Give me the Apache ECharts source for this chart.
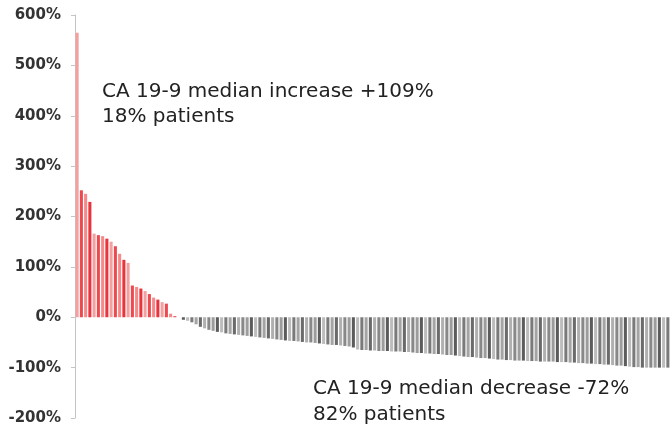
<!DOCTYPE html>
<html>
<head>
<meta charset="utf-8">
<script src="https://cdn.jsdelivr.net/npm/echarts@6/dist/echarts.min.js"></script>
<style>
html,body{margin:0;padding:0;background:#fff;}
#chart{width:670px;height:434px;}
</style>
</head>
<body>
<div id="chart"></div>
<script>
// Percent change in CA 19-9 per patient (waterfall, sorted)
const increaseValues = [565, 252, 245, 229, 166, 163, 161, 156, 150, 141, 126, 114, 108,
  63, 60, 57, 52, 46, 39, 35, 30, 27, 7, 2];
const decreaseValues = [0,
  -5, -7, -10, -14, -19, -22, -25, -27, -29, -30, -32, -33, -34, -35, -36, -37, -38, -39, -40, -41,
  -42, -43, -44, -45, -46, -47, -47, -48, -49, -50, -50, -51, -52, -53, -54, -55, -55, -56, -57, -58,
  -60, -64, -65, -65, -66, -66, -67, -67, -67, -68, -68, -68, -69, -69, -70, -71, -71, -72, -72, -73,
  -73, -74, -75, -75, -76, -77, -78, -79, -79, -80, -81, -81, -82, -83, -84, -84, -85, -85, -86, -86,
  -86, -87, -87, -87, -88, -88, -88, -88, -89, -89, -89, -90, -90, -91, -91, -92, -92, -93, -93, -94,
  -94, -95, -96, -96, -97, -98, -99, -99, -100, -100, -100, -100, -100, -100, -100];
const yMin = -200, yMax = 600, yStep = 100;
const annotationIncrease = ['CA 19-9 median increase +109%', '18% patients'];
const annotationDecrease = ['CA 19-9 median decrease -72%', '82% patients'];

const values = increaseValues.concat(decreaseValues);
const categories = values.map((v, i) => 'P' + (i + 1));

const redShades = ['#f3a0a0', '#ec4a4f', '#f58a8a', '#e8343c'];
const grayShades = ['#9c9c9c', '#7a7a7a', '#b0b0b0', '#5c5c5c', '#a4a4a4', '#888888', '#bcbcbc', '#6a6a6a'];

const chart = echarts.init(document.getElementById('chart'), null, {renderer: 'canvas'});
const textStyleBig = {fontFamily: 'DejaVu Sans', fontSize: 20, fill: '#222'};
chart.setOption({
  animation: false,
  grid: {left: 75, right: 0, top: 15, bottom: 16, containLabel: false},
  xAxis: {
    type: 'category',
    data: categories,
    show: false,
    boundaryGap: true
  },
  yAxis: {
    type: 'value',
    min: yMin, max: yMax, interval: yStep,
    axisLine: {show: true, lineStyle: {color: '#c4c4c4', width: 1}},
    axisTick: {show: true, length: 4, lineStyle: {color: '#c4c4c4'}},
    splitLine: {show: false},
    axisLabel: {
      formatter: '{value}%',
      margin: 14,
      fontFamily: 'DejaVu Sans',
      fontWeight: 'bold',
      fontSize: 15,
      color: '#333'
    }
  },
  series: [{
    type: 'bar',
    data: values,
    barCategoryGap: '28%',
    itemStyle: {
      color: function (p) {
        if (p.value > 0) return redShades[p.dataIndex % redShades.length];
        return grayShades[(p.dataIndex * 3) % grayShades.length];
      }
    }
  }],
  graphic: [
    {type: 'text', left: 102, top: 82, style: Object.assign({text: annotationIncrease[0]}, textStyleBig)},
    {type: 'text', left: 102, top: 107, style: Object.assign({text: annotationIncrease[1]}, textStyleBig)},
    {type: 'text', left: 313, top: 379, style: Object.assign({text: annotationDecrease[0]}, textStyleBig)},
    {type: 'text', left: 313, top: 405, style: Object.assign({text: annotationDecrease[1]}, textStyleBig)}
  ]
});
</script>
</body>
</html>
